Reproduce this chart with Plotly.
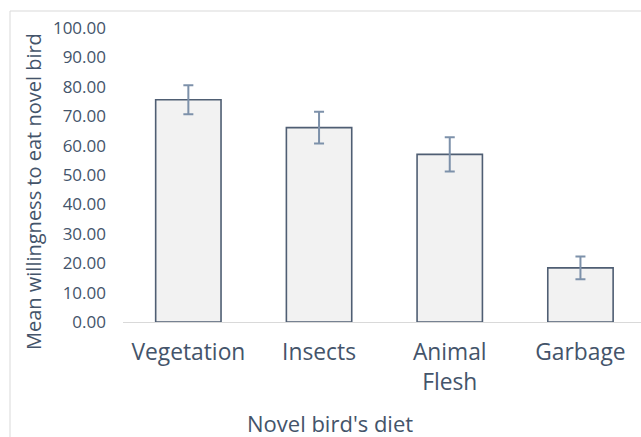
import plotly.graph_objects as go

categories = ["Vegetation", "Insects", "Animal<br>Flesh", "Garbage"]
means = [75.6, 66.1, 57.0, 18.4]
errors = [4.9, 5.4, 5.8, 3.9]
y_ticks = [0, 10, 20, 30, 40, 50, 60, 70, 80, 90, 100]
y_tick_labels = [f"{v:.2f}" for v in y_ticks]

W, H = 641, 437
L, R, T, B = 123, 0, 28, 115
pw, ph = W - L - R, H - T - B
text_col = "#44546A"
font = "Open Sans"

x_idx = list(range(len(categories)))

fig = go.Figure(go.Bar(
    x=x_idx, y=means, width=0.5,
    marker=dict(color="#F2F2F2", line=dict(color="#4F5E73", width=1.6)),
    error_y=dict(type="data", array=errors, visible=True,
                 color="#7D91AA", thickness=2, width=5),
))

step = 130.7
fig.update_layout(
    width=W, height=H,
    margin=dict(l=L, r=R, t=T, b=B, pad=0, autoexpand=False),
    paper_bgcolor="white", plot_bgcolor="white",
    showlegend=False,
    xaxis=dict(
        range=[-0.5, -0.5 + pw / step], automargin=False,
        tickmode="array", tickvals=x_idx, ticktext=categories,
        showgrid=False, zeroline=False,
        showline=True, linecolor="#D9D9D9", linewidth=1,
        ticks="", ticklabelstandoff=10,
        tickfont=dict(family=font, size=22.8, color=text_col),
    ),
    yaxis=dict(
        range=[0, 100], automargin=False,
        tickmode="array", tickvals=y_ticks, ticktext=y_tick_labels,
        showgrid=False, zeroline=False, showline=False,
        ticks="", ticklabelstandoff=16,
        tickfont=dict(family=font, size=17, color=text_col),
    ),
    shapes=[dict(type="rect", xref="paper", yref="paper",
                 x0=(10 - L) / pw, x1=1.2, y0=-0.6, y1=(H - B - 11) / ph,
                 line=dict(color="#D9D9D9", width=1), fillcolor="rgba(0,0,0,0)",
                 layer="below")],
    annotations=[
        dict(text="Novel bird's diet", xref="paper", yref="paper",
             x=(330 - L) / pw, y=(H - B - 423) / ph,
             showarrow=False, xanchor="center", yanchor="middle",
             font=dict(family=font, size=22, color=text_col)),
        dict(text="Mean willingness to eat novel bird", xref="paper", yref="paper",
             x=(33 - L) / pw, y=(H - B - 192) / ph, textangle=-90,
             showarrow=False, xanchor="center", yanchor="middle",
             font=dict(family=font, size=20, color=text_col)),
    ],
)

fig.write_html(
    "out.html",
    config={"displayModeBar": False},
    post_script="document.body.style.margin='0';document.body.style.overflow='hidden';",
)
